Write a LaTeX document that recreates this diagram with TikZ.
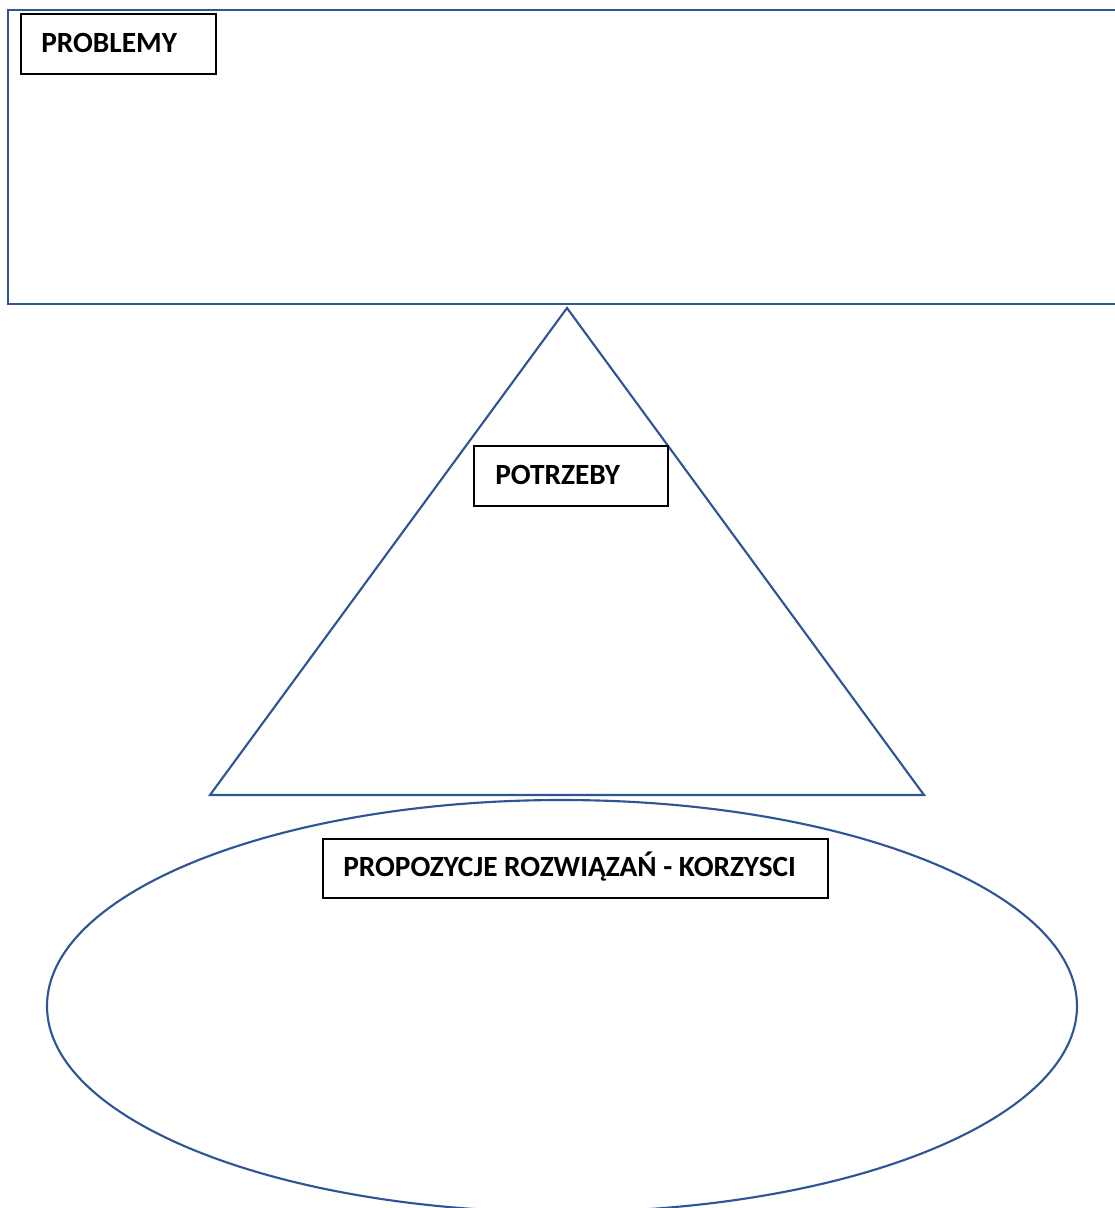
\documentclass[tikz,border=0pt]{standalone}
\usepackage{fontspec}
\setmainfont{Carlito}
\definecolor{ofblue}{HTML}{2F5597}
\begin{document}
\begin{tikzpicture}[x=0.75pt,y=-0.75pt,
  shapeline/.style={draw=ofblue,line width=1.6pt},
  labelbox/.style={draw=black,line width=1.4pt,fill=white,anchor=north west,inner sep=0pt},
  labeltext/.style={anchor=west,inner sep=0pt,font=\bfseries\fontsize{22}{26}\selectfont}]
\useasboundingbox (0,0) rectangle (1115,1208);
\begin{scope}
\clip (0,0) rectangle (1115,1208);
\draw[shapeline] (8,10) rectangle (1130,304);
\draw[shapeline,line join=miter] (567,308) -- (924,795) -- (210,795) -- cycle;
\draw[shapeline] (562,1006) ellipse [x radius=515,y radius=206];
\end{scope}
\node[labelbox,minimum width=195*0.75pt,minimum height=60*0.75pt] (prob) at (20,13) {};
\node[labeltext] (probt) at (41,43) {PROBLEMY};
\node[labelbox,minimum width=194*0.75pt,minimum height=60*0.75pt] (potr) at (473,445) {};
\node[labeltext] (potrt) at (495,475) {POTRZEBY};
\node[labelbox,minimum width=505*0.75pt,minimum height=59*0.75pt] (korz) at (322,838) {};
\node[labeltext] (korzt) at (343,867) {PROPOZYCJE ROZWIĄZAŃ - KORZYSCI};
\end{tikzpicture}
\end{document}
